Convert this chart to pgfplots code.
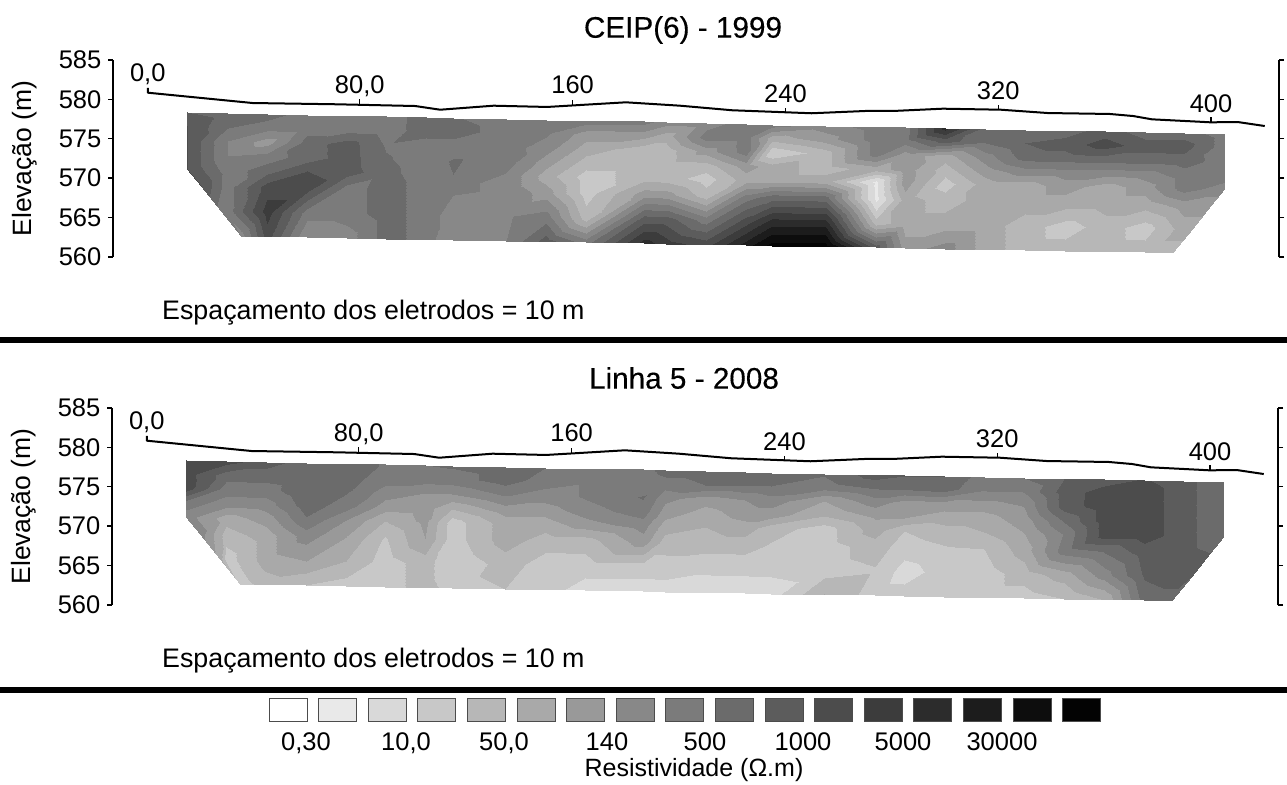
\documentclass[border=0pt]{standalone}
\usepackage{pgfplots}
\usepackage{pgfplotstable}
\usepackage{fontspec}
\setmainfont{Liberation Sans}
\newfontfamily\titlef[FakeBold=0.3]{Liberation Sans}
\pgfplotsset{compat=1.18}
% x y a(1999) b(2008), 27 columns x 8 rows; a and b are colour classes (0 lightest, 16 darkest)
\pgfplotstableread{
x y a b
15 578.36 9.5 11
30 578.26 9 11
45 578.15 9 10
60 578.05 8 9
75 577.94 8 9
90 577.83 8 8.4
105 577.73 9 8.5
115 577.62 8.6 8.6
135 577.52 8 9
150 577.41 8 8.5
165 577.30 8 8
187 577.20 8 8
195 577.09 7 9
210 576.99 7 9
225 576.88 8 9.5
235 576.77 8 9
255 576.67 7 8.6
274 576.56 8 10
285 576.46 8 9.6
300 576.35 13 9.5
315 576.25 9 8
330 576.14 9 8.5
345 576.03 9 9.5
360 575.93 10 10
375 575.82 9 10.6
390 575.72 9 10
405 575.61 8 8.5
15 576.65 10.5 11
30 576.54 8.6 9
45 576.44 8 9
60 576.33 8 9.3
75 576.23 8 9
90 576.12 8 8
105 576.02 9 8
115 575.92 9 8
135 575.81 8 9
150 575.71 7.7 8
165 575.60 6 7.6
187 575.50 6 7.5
195 575.39 5 8
210 575.29 8 8.5
225 575.19 8 8.5
235 575.08 5 8.5
255 574.98 6 8
274 574.87 8 8.6
285 574.77 8 8.6
300 574.67 10 9
315 574.56 8.6 7.6
330 574.46 9.5 7.6
345 574.35 10 10
360 574.25 11 11
375 574.14 10 11
390 574.04 10 10
405 573.94 8 8.5
15 574.78 10.5 11
30 574.68 7.5 8
45 574.57 6 8
60 574.47 9 9.4
75 574.37 10 8.6
90 574.27 8.4 7
105 574.16 8 6.5
115 574.06 8 6.5
135 573.96 8 7.6
150 573.86 7 7
165 573.75 5 7.6
187 573.65 4 8.6
195 573.55 4 6.8
210 573.45 6 6
225 573.34 8 6.5
235 573.24 2.6 7
255 573.14 4 5.5
274 573.04 8 7
285 572.93 6 6
300 572.83 5 6
315 572.73 7 6
330 572.63 9 6.6
345 572.52 9 10
360 572.42 9 11
375 572.32 9 11
390 572.22 9 10
405 572.11 8 8.5
15 572.91 10.5 8
30 572.81 7.5 7
45 572.71 8 7
60 572.61 9 9
75 572.51 10 8
90 572.41 8.6 6
105 572.31 8 6
115 572.21 8.6 4.5
135 572.11 8 6
150 572.01 6 6
165 571.90 4 7
187 571.80 4 8
195 571.70 4 6
210 571.60 4 5
225 571.50 6 6
235 571.40 5 6
255 571.30 4 4.5
274 571.20 5 5.6
285 571.10 6 5.5
300 571.00 4 5
315 570.90 6 5
330 570.80 7 6
345 570.70 7 8.6
360 570.60 7 11
375 570.50 7 11
390 570.40 8 10
405 570.30 8 8.5
15 571.20 10.5 7
30 571.10 8 5
45 571.00 9 6
60 570.90 10.5 8.4
75 570.81 10 6.5
90 570.71 8.8 4.5
105 570.61 8 5.8
115 570.51 8.5 3
135 570.41 7.4 5
150 570.31 5 5
165 570.21 3 6
187 570.11 4 7
195 570.01 4 5
210 569.92 3 4.5
225 569.82 5 5
235 569.72 5 4
255 569.62 5 3
274 569.52 1.2 5
285 569.42 6 3.5
300 569.32 3 4
315 569.22 5 4.5
330 569.12 5 5.5
345 569.03 6 7.6
360 568.93 5 11
375 568.83 6 11
390 568.73 8 10
405 568.63 7 8.5
20.4 568.99 10.5 7
30 568.93 8 4
45 568.83 11 5
60 568.73 11 7
75 568.64 8 5.5
90 568.54 9 3.4
105 568.44 8 5.5
115 568.35 7.6 3
135 568.25 7.4 5
150 568.15 6 4
165 568.06 3 4
187 567.96 6 6
195 567.86 6 4
210 567.77 4 4
225 567.67 8 4
235 567.57 9 3.4
255 567.48 9 3
274 567.38 1.2 4
285 567.28 5 3
300 567.19 4 3.4
315 567.09 5 3.5
330 566.99 5 5
345 566.90 5 8
360 566.80 5 8.6
375 566.70 5 10
390 566.60 6 10
400.1 566.54 6 9.5
27.8 565.83 8 5
30 565.81 8 3
45 565.72 12 5
60 565.63 8 5.5
75 565.53 8 4.5
90 565.44 9 3
105 565.34 8 4
115 565.25 7 2.5
135 565.16 7.4 4
150 565.06 8 3
165 564.97 4 3
187 564.88 10 3
195 564.78 10 3
210 564.69 8 2.7
225 564.60 11 2.7
235 564.50 13 2.7
255 564.41 13 3
274 564.32 4 3.4
285 564.22 5 2
300 564.13 5 3
315 564.03 5 3
330 563.94 4 4
345 563.85 3 5
360 563.75 4 7
375 563.66 3 9.6
390 563.57 5 10
392.8 563.55 5 9.5
35.2 562.67 8 3
35.2 562.67 7 3
45 562.61 11 4
60 562.52 6.5 3.5
75 562.43 7 3
90 562.34 9 3
105 562.25 8 4
115 562.16 6.5 3
135 562.06 7.5 3.5
150 561.97 10 3
165 561.88 8 2
187 561.79 13 2
195 561.70 12 2
210 561.61 11 2
225 561.52 14 2
235 561.43 16 2
255 561.34 16 4.5
274 561.25 10 3
285 561.16 6 3
300 561.07 7 3
315 560.98 5 3
330 560.89 4 3
345 560.80 4 3.5
360 560.71 4 4.6
375 560.61 4 9
385.5 560.55 4 9
385.5 560.55 4 9
}\grid
\pgfplotstableread{
x y
0.3 581.45
0.3 580.85
39.7 579.54
71.2 579.38
100.8 579.16
110.2 578.69
130.3 579.20
150.4 579.04
180 579.63
200.4 579.20
220 578.62
249.8 578.24
270.2 578.53
280.5 578.53
299.2 578.82
321 578.69
338.6 578.27
361.9 578.15
370.7 577.89
377.8 577.47
395.4 577.17
399.8 577.09
410 577.13
420.2 576.62
}\topo
\definecolor{lv0}{gray}{1}
\definecolor{lv1}{gray}{.914}
\definecolor{lv2}{gray}{.851}
\definecolor{lv3}{gray}{.784}
\definecolor{lv4}{gray}{.718}
\definecolor{lv5}{gray}{.663}
\definecolor{lv6}{gray}{.600}
\definecolor{lv7}{gray}{.533}
\definecolor{lv8}{gray}{.482}
\definecolor{lv9}{gray}{.420}
\definecolor{lv10}{gray}{.361}
\definecolor{lv11}{gray}{.298}
\definecolor{lv12}{gray}{.235}
\definecolor{lv13}{gray}{.173}
\definecolor{lv14}{gray}{.110}
\definecolor{lv15}{gray}{.051}
\definecolor{lv16}{gray}{.012}
\pgfplotsset{
 panel/.style={
  scale only axis,width=1166pt,height=197pt,anchor=south west,
  xmin=-12.78,xmax=425.56,ymin=560,ymax=585,clip=false,
  separate axis lines,
  every outer x axis line/.append style={draw=none},
  every outer y axis line/.append style={line width=1.4pt,black},
  xtick=\empty,ytick={560,565,...,585},
  ytick pos=both,yticklabel pos=left,tick align=outside,
  major tick length=5pt,
  ytick style={line width=1.4pt,black},
  /pgf/number format/assume math mode=true,
  /pgf/number format/set thousands separator={},
  yticklabel style={font=\fontsize{25.5}{26}\selectfont,inner sep=0pt,xshift=-6.5pt},
  ylabel={Elevação (m)},
  ylabel style={font=\fontsize{26.5}{27}\selectfont,at={(axis description cs:-0.0755,0.5)},anchor=center,inner sep=0pt},
  colormap={gr}{gray=(1) gray=(.914) gray=(.851) gray=(.784) gray=(.718) gray=(.663) gray=(.600) gray=(.533) gray=(.482) gray=(.420) gray=(.361) gray=(.298) gray=(.235) gray=(.173) gray=(.110) gray=(.051) gray=(.012)},
  point meta min=-0.5,point meta max=16.5,
 },
 res/.style={surf,shader=interp,mesh/cols=27,colormap access=piecewise constant,point meta=explicit},
}
\newcommand\xl[3]{\node[font=\fontsize{25.5}{26}\selectfont,text height=18pt,text depth=0pt,inner sep=0pt] at (axis cs:#1,#2) {#3};}
\newcommand\common{%
 \addplot[black,line width=2pt,line join=round] table[x=x,y=y] {\topo};
 \addplot[black,line width=1.2pt] coordinates {(80,579.38) (80,580.05)};
 \addplot[black,line width=1.2pt] coordinates {(160,579.2) (160,579.9)};
 \addplot[black,line width=1.2pt] coordinates {(240,578.3) (240,578.95)};
 \addplot[black,line width=1.2pt] coordinates {(320,578.7) (320,579.35)};
 \addplot[black,line width=1.2pt] coordinates {(400,577.1) (400,577.75)};
 \xl{0.3}{583.35}{0,0}\xl{80}{581.83}{80,0}\xl{160}{581.83}{160}
 \xl{240}{580.81}{240}\xl{320}{581.19}{320}\xl{400}{579.54}{400}
}
\begin{document}
\begin{tikzpicture}[x=1pt,y=1pt]
\path[use as bounding box] (0,0) rectangle (1287,784);
\begin{axis}[panel,at={(113pt,527pt)}]
\addplot[res] table[x=x,y=y,meta=a] {\grid};
\common
\end{axis}
\begin{axis}[panel,at={(112pt,179pt)}]
\addplot[res] table[x=x,y=y,meta=b] {\grid};
\common
\end{axis}
\node[font=\titlef\fontsize{29.7}{30}\selectfont,inner sep=0pt] at (683,754) {CEIP(6) - 1999};
\node[font=\titlef\fontsize{29.7}{30}\selectfont,inner sep=0pt] at (684,406) {Linha 5 - 2008};
\node[font=\fontsize{26.8}{27}\selectfont,inner sep=0pt,anchor=base west] at (162,464) {Espaçamento dos eletrodos = 10 m};
\node[font=\fontsize{26.8}{27}\selectfont,inner sep=0pt,anchor=base west] at (162,116) {Espaçamento dos eletrodos = 10 m};
\fill[black] (0,441) rectangle (1287,447);
\fill[black] (0,91) rectangle (1287,97);
\foreach \i in {0,...,16}{
 \draw[fill=lv\i,draw=black!70,line width=0.9pt] ({269+49.6*\i},63) rectangle ({307+49.6*\i},86);
}
\foreach \x/\t in {306/{0,30},406/{10,0},504/{50,0},607/140,705/500,803/1000,903/5000,1002/30000}{
 \node[font=\fontsize{25.5}{26}\selectfont,inner sep=0pt,text height=18pt,text depth=0pt] at (\x,42) {\t};
}
\node[font=\fontsize{25}{26}\selectfont,inner sep=0pt] at (694,14) {Resistividade (Ω.m)};
\end{tikzpicture}
\end{document}
